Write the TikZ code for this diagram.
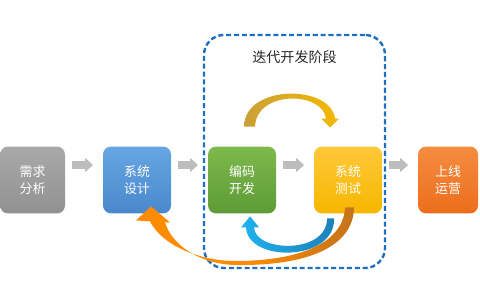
\documentclass[tikz,border=0pt]{standalone}
\usepackage{fontspec}
\newfontfamily\cjk{Noto Sans CJK SC}
\usetikzlibrary{arrows.meta,positioning}
\definecolor{reqtop}{HTML}{A9A9A9}
\definecolor{reqbot}{HTML}{919191}
\definecolor{destop}{HTML}{66A6E2}
\definecolor{desbot}{HTML}{4A88CC}
\definecolor{codetop}{HTML}{7DB94C}
\definecolor{codebot}{HTML}{5E9B37}
\definecolor{testtop}{HTML}{FFC83A}
\definecolor{testbot}{HTML}{F6B700}
\definecolor{opstop}{HTML}{F58C40}
\definecolor{opsbot}{HTML}{EC6E1C}
\definecolor{arrowgray}{HTML}{BDBDBD}
\definecolor{frameblue}{HTML}{1F6FC0}
\definecolor{titlegray}{HTML}{262626}
\definecolor{golddark}{HTML}{C9A038}
\definecolor{goldlight}{HTML}{F5B900}
\definecolor{bluelight}{HTML}{1FB2F0}
\definecolor{bluedark}{HTML}{1C80B8}
\definecolor{orangelight}{HTML}{FF8C00}
\definecolor{orangedark}{HTML}{C4731C}

\begin{document}
\begin{tikzpicture}[x=0.025cm, y=0.025cm,
  stage/.style={rounded corners=0.2cm, minimum width=1.7cm, minimum height=1.67cm,
    inner sep=0pt, outer sep=0pt, align=center, text=white,
    font=\cjk\fontsize{9.2}{12}\selectfont},
  flowarrow/.style={draw=arrowgray, line width=0.2cm,
    -{Triangle[length=0.2cm,width=0.35cm]}, shorten <=0.175cm, shorten >=0.25cm},
  iterframe/.style={draw=frameblue, line width=1.7pt, dash pattern=on 3.6pt off 2pt,
    rounded corners=0.5cm, inner sep=0pt, minimum width=4.525cm, minimum height=5.825cm}]
\useasboundingbox (0,0) rectangle (480,300);
% iteration frame
\node[iterframe] (iter) at (294.5,148.5) {};
\node[font=\cjk\fontsize{10}{12}\selectfont, text=titlegray] (title) at ([yshift=-0.575cm]iter.north) {迭代开发阶段};
% stages
\node[stage, top color=reqtop, bottom color=reqbot, minimum width=1.625cm] (req) at (32.5,120) {需求\\分析};
\node[stage, top color=destop, bottom color=desbot, right=0.95cm of req] (des) {系统\\设计};
\node[stage, top color=codetop, bottom color=codebot, right=0.925cm of des] (code) {编码\\开发};
\node[stage, top color=testtop, bottom color=testbot, right=0.95cm of code] (test) {系统\\测试};
\node[stage, top color=opstop, bottom color=opsbot, minimum width=1.5cm, right=0.9cm of test] (ops) {上线\\运营};
% gray flow arrows
\draw[flowarrow] ([yshift=0.375cm]req.east) -- ([yshift=0.375cm]des.west);
\draw[flowarrow] ([yshift=0.375cm]des.east) -- ([yshift=0.375cm]code.west);
\draw[flowarrow] ([yshift=0.375cm]code.east) -- ([yshift=0.375cm]test.west);
\draw[flowarrow] ([yshift=0.375cm]test.east) -- ([yshift=0.375cm]ops.west);
% code -> test (top)
\shade[left color=golddark, right color=goldlight] ([shift={(2,20)}]code.north)
  .. controls +(0,42) and +(-5,35) .. ([shift={(-13,28)}]test.north)
  -- ++(4,0) -- ++(-9,-9) -- ++(-9,9) -- ++(5,0)
  .. controls +(-4,28) and +(1,36) .. ([shift={(13,20)}]code.north) -- cycle;
% test -> code (bottom)
\shade[left color=bluelight, right color=bluedark] ([shift={(-14,-5)}]test.south)
  .. controls +(1,-44) and +(1,-35) .. ([shift={(4,-14)}]code.south)
  -- ++(-5,0) -- ++(9,11) -- ++(9,-11) -- ++(-5,0)
  .. controls +(1,-25) and +(0,-36) .. ([shift={(-21,-5)}]test.south) -- cycle;
% test -> des (long way back)
\shade[left color=orangelight, right color=orangedark, middle color=orangelight] ([shift={(6,6)}]test.south)
  .. controls +(-1,-43) and +(65,-1) .. (235,35)
  .. controls +(-35,1) and +(7,-23) .. ([shift={(28,-9)}]des.south)
  -- ++(5,0) -- ++(-19,16) -- ++(-15,-14) -- ++(14,-1)
  .. controls +(12,-24) and +(-35,0) .. (235,39)
  .. controls +(60,0) and +(-2,-38) .. ([shift={(-3,6)}]test.south) -- cycle;
\end{tikzpicture}
\end{document}
